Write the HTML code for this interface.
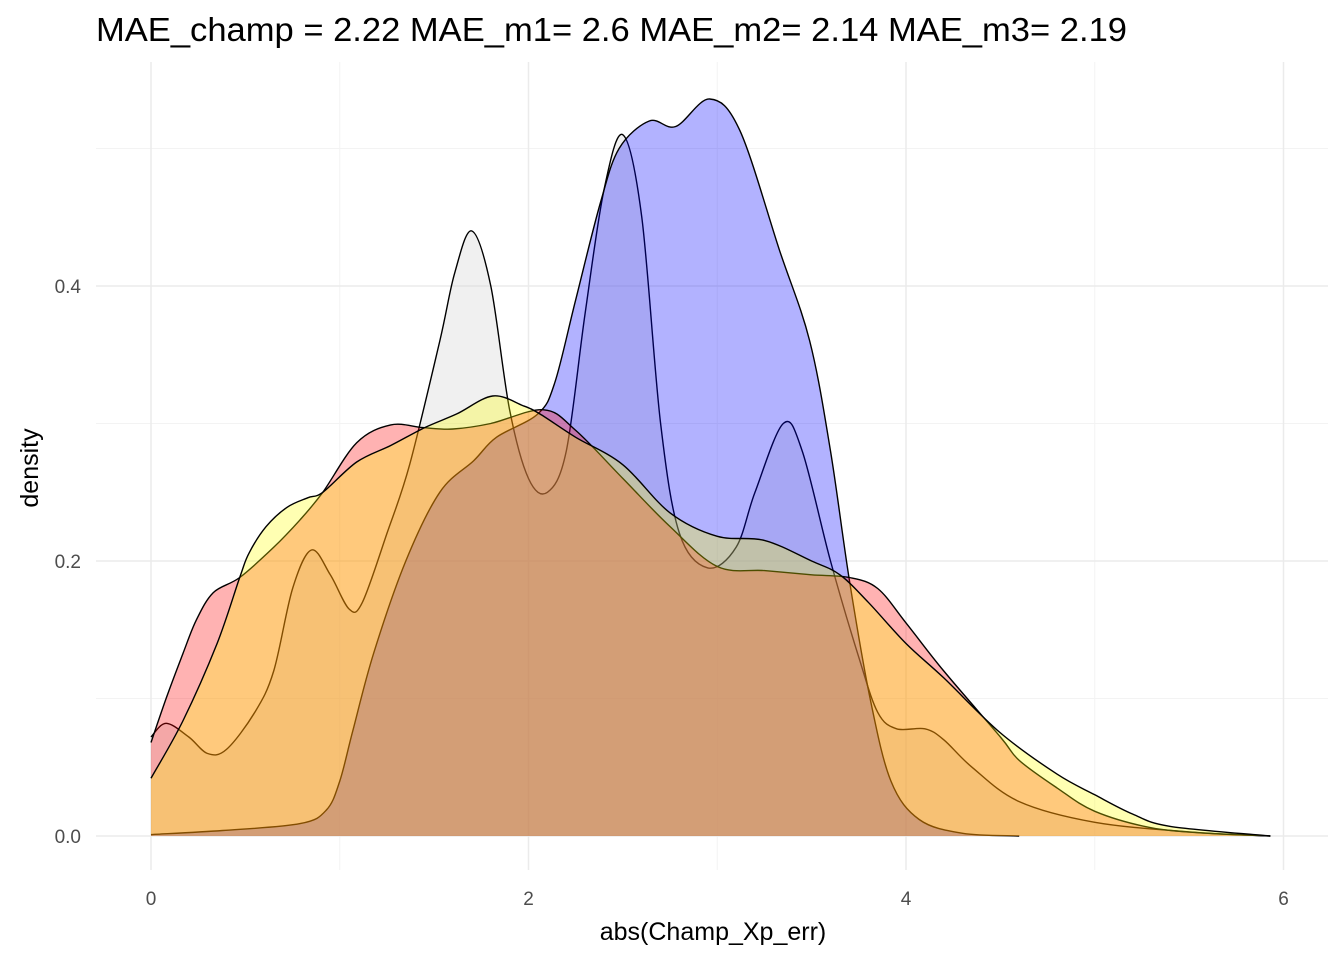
<!DOCTYPE html>
<html><head><meta charset="utf-8"><style>
html,body{margin:0;padding:0;background:#fff;}
svg{display:block;font-family:"Liberation Sans",Arial,sans-serif;}
</style></head><body>
<svg id="chart" width="1344" height="960" viewBox="0 0 1344 960">
<g id="grid"></g>
<g id="areas"></g>
<g id="axes"></g>
<text x="96" y="41" font-size="33" fill="#000" textLength="1031" lengthAdjust="spacingAndGlyphs">MAE_champ = 2.22 MAE_m1= 2.6 MAE_m2= 2.14 MAE_m3= 2.19</text>
<text x="713" y="940" font-size="25" text-anchor="middle" fill="#000">abs(Champ_Xp_err)</text>
<text transform="translate(38,468) rotate(-90)" font-size="25" text-anchor="middle" fill="#000">density</text>
</svg>
<script>
const xTicks=[0,2,4,6];
const xMinor=[1,3,5];
const yTicks=[0,0.2,0.4];
const yTickLabels=["0.0","0.2","0.4"];
const yMinor=[0.1,0.3,0.5];
// series (drawn in this order: grey, blue, red, yellow)
const greyX=[0,0.08,0.2,0.3,0.4,0.55,0.65,0.75,0.85,0.95,1.05,1.12,1.25,1.37,1.53,1.61,1.7,1.8,1.9,2.0,2.1,2.2,2.3,2.4,2.5,2.6,2.7,2.8,2.95,3.1,3.2,3.35,3.45,3.6,3.75,3.85,3.95,4.1,4.2,4.35,4.6,5.0,5.5,5.93];
const greyY=[0.072,0.082,0.072,0.06,0.063,0.09,0.12,0.18,0.208,0.19,0.165,0.17,0.22,0.27,0.36,0.41,0.44,0.4,0.31,0.26,0.25,0.28,0.38,0.47,0.51,0.45,0.3,0.22,0.195,0.21,0.25,0.3,0.28,0.2,0.13,0.09,0.078,0.078,0.07,0.05,0.025,0.01,0.003,0];
const blueX=[0,0.38,0.79,0.93,1.0,1.07,1.18,1.35,1.53,1.71,1.83,2.05,2.14,2.25,2.38,2.48,2.64,2.78,2.96,3.12,3.33,3.49,3.6,3.7,3.81,3.92,4.07,4.3,4.6];
const blueY=[0.001,0.004,0.009,0.019,0.04,0.077,0.133,0.2,0.25,0.273,0.29,0.307,0.33,0.39,0.46,0.5,0.52,0.516,0.536,0.513,0.426,0.36,0.28,0.186,0.1,0.04,0.012,0.002,0];
const redX=[0,0.08,0.17,0.24,0.33,0.47,0.65,0.79,0.91,1.09,1.27,1.44,1.6,1.8,2.08,2.25,2.5,2.75,3.0,3.25,3.5,3.7,3.85,4.0,4.2,4.5,4.6,4.8,5.0,5.3,5.6,5.93];
const redY=[0.068,0.1,0.133,0.157,0.177,0.188,0.21,0.23,0.25,0.286,0.299,0.297,0.296,0.3,0.31,0.295,0.26,0.225,0.196,0.193,0.19,0.188,0.18,0.155,0.12,0.072,0.055,0.035,0.018,0.006,0.002,0];
const yellowX=[0,0.17,0.35,0.47,0.52,0.61,0.72,0.83,0.91,1.09,1.27,1.45,1.62,1.81,1.97,2.06,2.25,2.5,2.75,3.0,3.25,3.5,3.65,3.8,4.0,4.2,4.5,4.8,5.0,5.2,5.4,5.93];
const yellowY=[0.042,0.084,0.14,0.188,0.206,0.225,0.239,0.246,0.25,0.272,0.284,0.297,0.307,0.32,0.313,0.307,0.29,0.27,0.235,0.218,0.215,0.2,0.19,0.17,0.14,0.115,0.075,0.045,0.03,0.016,0.007,0];

const NS='http://www.w3.org/2000/svg';
const X0=151,XS=188.75,Y0=836,YS=1375;
function sx(v){return X0+v*XS;}
function sy(v){return Y0-v*YS;}
function mk(tag,attrs,parent){const e=document.createElementNS(NS,tag);for(const k in attrs)e.setAttribute(k,attrs[k]);parent.appendChild(e);return e;}
const grid=document.getElementById('grid'),areas=document.getElementById('areas'),axes=document.getElementById('axes');
yMinor.forEach(v=>{const l=mk('line',{x1:96,x2:1328,y1:sy(v),y2:sy(v),stroke:'#f3f3f3','stroke-width':1},grid);

});
xMinor.forEach(v=>{const l=mk('line',{x1:sx(v),x2:sx(v),y1:62,y2:870,stroke:'#f3f3f3','stroke-width':1},grid);

});
yTicks.forEach((v,i)=>{const l=mk('line',{x1:96,x2:1328,y1:sy(v),y2:sy(v),stroke:'#ebebeb','stroke-width':1.5},grid);


const t=mk('text',{x:81,y:sy(v)+7,'font-size':19,'text-anchor':'end',fill:'#4d4d4d'},axes);t.textContent=yTickLabels[i];

});
xTicks.forEach(v=>{const l=mk('line',{x1:sx(v),x2:sx(v),y1:62,y2:870,stroke:'#ebebeb','stroke-width':1.5},grid);


const t=mk('text',{x:sx(v),y:905,'font-size':19,'text-anchor':'middle',fill:'#4d4d4d'},axes);t.textContent=String(v);

});
function curve(xs,ys){
  const p=xs.map((x,i)=>[sx(x),sy(ys[i])]);
  let d='M'+p[0][0]+','+p[0][1];
  for(let i=0;i<p.length-1;i++){
    const p0=p[Math.max(0,i-1)],p1=p[i],p2=p[i+1],p3=p[Math.min(p.length-1,i+2)];
    const c1=[p1[0]+(p2[0]-p0[0])/6,p1[1]+(p2[1]-p0[1])/6];
    const c2=[p2[0]-(p3[0]-p1[0])/6,p2[1]-(p3[1]-p1[1])/6];
    d+=' C'+c1[0].toFixed(1)+','+c1[1].toFixed(1)+' '+c2[0].toFixed(1)+','+c2[1].toFixed(1)+' '+p2[0].toFixed(1)+','+p2[1].toFixed(1);
  }
  return {d:d,x0:p[0][0],x1:p[p.length-1][0]};
}
function series(xs,ys,color,name){
  const c=curve(xs,ys);
  const a=mk('path',{d:c.d+' L'+c.x1+','+Y0+' L'+c.x0+','+Y0+' Z',fill:color,'fill-opacity':0.3,stroke:'none'},areas);
  
  
  const l=mk('path',{d:c.d,fill:'none',stroke:'#000','stroke-width':1.4},areas);
  
  
}
series(greyX,greyY,'#cdcdcd','grey-density');
series(blueX,blueY,'#0000ff','blue-density');
series(redX,redY,'#ff0000','red-density');
series(yellowX,yellowY,'#ffff00','yellow-density');
</script>
</body></html>
